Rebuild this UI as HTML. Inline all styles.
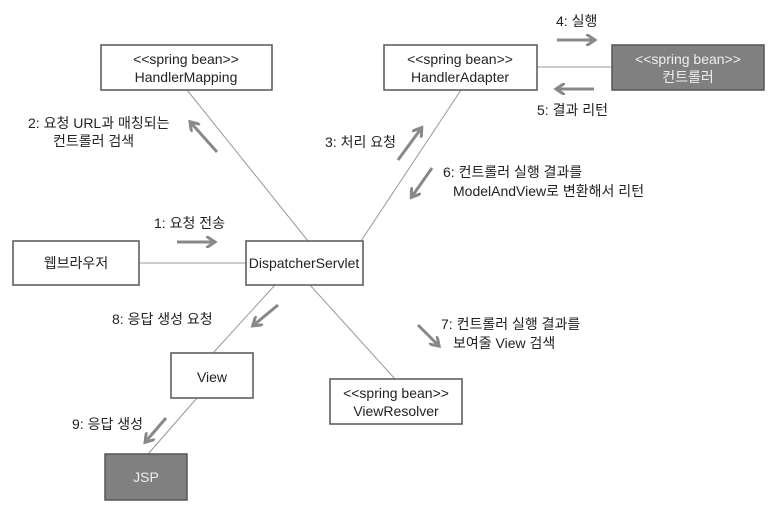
<!DOCTYPE html><html><head><meta charset="utf-8"><style>
body{margin:0;background:#fff;}
svg text{font-family:"Liberation Sans","Noto Sans CJK KR",sans-serif;font-size:14px;fill:#222;}
</style></head><body>
<svg width="773" height="511" viewBox="0 0 773 511" xmlns="http://www.w3.org/2000/svg">
<defs><marker id="a" markerWidth="4" markerHeight="4" refX="2" refY="2" orient="auto" markerUnits="strokeWidth"><path d="M0,0 L3,2 L0,4" fill="none" stroke="#888" stroke-width="1"/></marker></defs>
<g stroke="#999" stroke-width="1" fill="none">
<line x1="187" y1="90" x2="308" y2="241"/>
<line x1="461" y1="90" x2="361" y2="241"/>
<line x1="139" y1="263" x2="246" y2="263"/>
<line x1="537" y1="67" x2="612" y2="67"/>
<line x1="275" y1="285" x2="213" y2="353"/>
<line x1="197" y1="398" x2="148" y2="454"/>
<line x1="310" y1="285" x2="395" y2="379"/>
</g>
<g stroke="#888" stroke-width="3" fill="none" marker-end="url(#a)">
<line x1="177" y1="242" x2="212" y2="242"/>
<line x1="217" y1="152" x2="192" y2="124"/>
<line x1="398" y1="160" x2="420" y2="130"/>
<line x1="557" y1="40" x2="592" y2="40"/>
<line x1="594" y1="89" x2="559" y2="89"/>
<line x1="432" y1="168" x2="413" y2="195"/>
<line x1="418" y1="325" x2="437" y2="344"/>
<line x1="278" y1="305" x2="255" y2="324"/>
<line x1="166" y1="418" x2="147" y2="440"/>
</g>
<g stroke="#555" stroke-width="1.5">
<rect x="101" y="45" width="171" height="45" fill="#fff"/>
<rect x="384" y="45" width="153" height="45" fill="#fff"/>
<rect x="612" y="45" width="152" height="45" fill="#808080"/>
<rect x="13" y="241" width="126" height="44" fill="#fff"/>
<rect x="246" y="241" width="117" height="44" fill="#fff"/>
<rect x="171" y="353" width="82" height="45" fill="#fff"/>
<rect x="330" y="379" width="132" height="45" fill="#fff"/>
<rect x="105" y="454" width="82" height="46" fill="#808080"/>
</g>
<g text-anchor="middle">
<text x="186" y="64">&lt;&lt;spring bean&gt;&gt;</text><text x="186" y="82">HandlerMapping</text>
<text x="460" y="64">&lt;&lt;spring bean&gt;&gt;</text><text x="460" y="82">HandlerAdapter</text>
<text x="688" y="64" style="fill:#eee">&lt;&lt;spring bean&gt;&gt;</text><text x="688" y="82" style="fill:#eee">컨트롤러</text>
<text x="76" y="268">웹브라우저</text>
<text x="304" y="268">DispatcherServlet</text>
<text x="212" y="382">View</text>
<text x="396" y="398">&lt;&lt;spring bean&gt;&gt;</text><text x="396" y="416">ViewResolver</text>
<text x="146" y="482" style="fill:#eee">JSP</text>
</g>
<text x="28" y="128">2: 요청 URL과 매칭되는</text>
<text x="53" y="146">컨트롤러 검색</text>
<text x="154" y="228">1: 요청 전송</text>
<text x="325" y="147">3: 처리 요청</text>
<text x="556" y="26">4: 실행</text>
<text x="537" y="115">5: 결과 리턴</text>
<text x="443" y="177">6: 컨트롤러 실행 결과를</text>
<text x="453" y="196">ModelAndView로 변환해서 리턴</text>
<text x="112" y="324">8: 응답 생성 요청</text>
<text x="441" y="329">7: 컨트롤러 실행 결과를</text>
<text x="453" y="348">보여줄 View 검색</text>
<text x="72" y="429">9: 응답 생성</text>
</svg>
</body></html>
